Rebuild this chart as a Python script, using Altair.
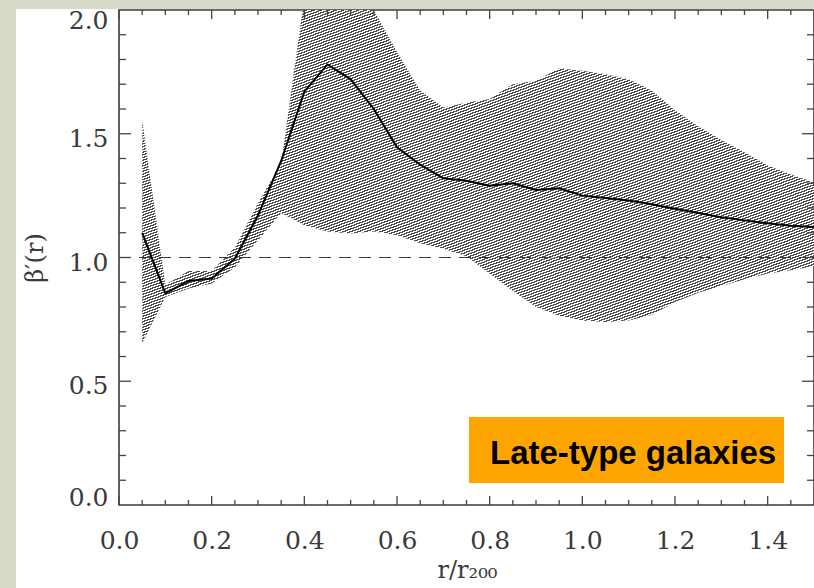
import math
import altair as alt
import pandas as pd

# ---------------- data ----------------
x_vals = [0.05, 0.10, 0.15, 0.20, 0.25, 0.30, 0.35, 0.40, 0.45, 0.50,
          0.55, 0.60, 0.65, 0.70, 0.75, 0.80, 0.85, 0.90, 0.95, 1.00,
          1.05, 1.10, 1.15, 1.20, 1.25, 1.30, 1.35, 1.40, 1.45, 1.50]
beta_vals = [1.10, 0.855, 0.905, 0.915, 0.995, 1.17, 1.39, 1.67, 1.78, 1.72,
             1.60, 1.445, 1.375, 1.32, 1.31, 1.29, 1.30, 1.273, 1.28, 1.25,
             1.24, 1.23, 1.215, 1.197, 1.18, 1.163, 1.15, 1.138, 1.128, 1.123]
lower_vals = [0.655, 0.84, 0.875, 0.895, 0.96, 1.07, 1.18, 1.13, 1.105, 1.097,
              1.105, 1.09, 1.058, 1.035, 1.005, 0.934, 0.865, 0.80, 0.765, 0.745,
              0.739, 0.745, 0.768, 0.82, 0.858, 0.885, 0.912, 0.935, 0.948, 0.965]
upper_vals = [1.555, 0.89, 0.945, 0.945, 1.04, 1.22, 1.38, 2.05, 2.3, 2.25,
              2.0, 1.83, 1.675, 1.606, 1.625, 1.64, 1.70, 1.714, 1.765, 1.755,
              1.74, 1.72, 1.675, 1.595, 1.53, 1.475, 1.425, 1.372, 1.335, 1.304]

x_label_vals = [0.0, 0.2, 0.4, 0.6, 0.8, 1.0, 1.2, 1.4]
x_minor_vals = [0.05, 0.1, 0.15, 0.25, 0.3, 0.35, 0.45, 0.5, 0.55, 0.65, 0.7,
                0.75, 0.85, 0.9, 0.95, 1.05, 1.1, 1.15, 1.25, 1.3, 1.35, 1.45]
y_label_vals = [0.0, 0.5, 1.0, 1.5, 2.0]
y_major_vals = [0.5, 1.0, 1.5]
y_minor_vals = [0.1, 0.2, 0.3, 0.4, 0.6, 0.7, 0.8, 0.9, 1.1, 1.2, 1.3, 1.4,
                1.6, 1.7, 1.8, 1.9]
ref_level = [1.0]
box_label = ["Late-type galaxies"]
x_title = "r/r₂₀₀"
y_title = "β′(r)"

# ---------------- styling ----------------
W, H = 695, 495
X_MAX, Y_MAX = 1.5, 2.0
BG = "#d7dac8"
INK = "#3a3a3a"
TICK = "#444444"
HATCH = "#4d4d4d"
SERIF = "DejaVu Serif"

xs = alt.Scale(domain=[0, X_MAX], nice=False, zero=False)
ys = alt.Scale(domain=[0, Y_MAX], nice=False, zero=False)

df = pd.DataFrame({"x": x_vals, "beta": beta_vals, "lo": lower_vals, "hi": upper_vals})

# hatch fill as a striped linear gradient (45 degree "/" lines), period chosen
# so that the horizontal spacing is a whole number of pixels (no moire)
pxu, pyu = W / X_MAX, H / Y_MAX
bw = (max(x_vals) - min(x_vals)) * pxu
bh = (max(upper_vals) - min(lower_vals)) * pyu
period = 4.0 / math.sqrt(2)          # 4 px horizontal spacing
frac = 0.5
L_need = (bw + bh) / math.sqrt(2)
n = int(math.ceil(L_need / period))
L = n * period
t = L / math.sqrt(2)
stops = []
for i in range(n):
    a, b, c = i / n, (i + frac) / n, (i + 1) / n
    stops += [alt.GradientStop(color=HATCH, offset=a),
              alt.GradientStop(color=HATCH, offset=b),
              alt.GradientStop(color="white", offset=b),
              alt.GradientStop(color="white", offset=c)]
grad = alt.LinearGradient(gradient="linear", stops=stops,
                          x1=0, y1=0, x2=t / bw, y2=t / bh)

x_axis = alt.Axis(values=x_label_vals, format=".1f", ticks=False, tickSize=0,
                  domain=False, grid=False, labelFont=SERIF, labelFontSize=25,
                  labelColor=INK, labelPadding=23, labelFlush=False,
                  title=x_title, titleFont=SERIF, titleFontSize=24,
                  titleFontWeight="normal", titleColor=INK, titleX=348,
                  titleY=72, titleBaseline="alphabetic", titleAlign="center")
y_axis = alt.Axis(values=y_label_vals, format=".1f", ticks=False, tickSize=0,
                  domain=False, grid=False, labelFont=SERIF, labelFontSize=25,
                  labelColor=INK, labelPadding=11, labelFlush=False,
                  labelBaseline={"condition": [
                      {"test": "datum.value == 2", "value": "top"},
                      {"test": "datum.value == 0", "value": "alphabetic"}],
                      "value": "middle"},
                  labelOffset={"condition": [
                      {"test": "datum.value == 2", "value": -2},
                      {"test": "datum.value == 0", "value": 0}],
                      "value": 4.5},
                  title=y_title, titleFont=SERIF, titleFontSize=24,
                  titleFontWeight="normal", titleColor=INK, titleX=-77,
                  titleY=H / 2, titleAngle=270, titleBaseline="alphabetic",
                  titleAlign="center")

band = alt.Chart(df).mark_area(fill=grad, clip=True, strokeWidth=0).encode(
    x=alt.X("x:Q", scale=xs, axis=x_axis),
    y=alt.Y("hi:Q", scale=ys, axis=y_axis),
    y2="lo:Q",
)

dashed = alt.Chart(pd.DataFrame({"v": ref_level})).mark_rule(
    color=INK, strokeDash=[12, 8], strokeWidth=1.2
).encode(y=alt.Y("v:Q", scale=ys), x=alt.value(0), x2=alt.value(W))

line = alt.Chart(df).mark_line(color="black", strokeWidth=2).encode(
    x=alt.X("x:Q", scale=xs), y=alt.Y("beta:Q", scale=ys)
)


def xticks(vals, y0, y1):
    return alt.Chart(pd.DataFrame({"v": vals})).mark_rule(
        color=TICK, strokeWidth=1.3
    ).encode(x=alt.X("v:Q", scale=xs), y=alt.value(y0), y2=alt.value(y1))


def yticks(vals, x0, x1):
    return alt.Chart(pd.DataFrame({"v": vals})).mark_rule(
        color=TICK, strokeWidth=1.3
    ).encode(y=alt.Y("v:Q", scale=ys), x=alt.value(x0), x2=alt.value(x1))


tick_layers = [
    xticks(x_label_vals, H, H - 9), xticks(x_minor_vals, H, H - 5),
    xticks(x_label_vals, 0, 9), xticks(x_minor_vals, 0, 5),
    yticks(y_major_vals, 0, 12), yticks(y_minor_vals, 0, 7),
    yticks(y_major_vals, W, W - 12), yticks(y_minor_vals, W, W - 7),
]

lab_df = pd.DataFrame({"label": box_label})
box = alt.Chart(lab_df).mark_rect(color="#FFA500").encode(
    x=alt.value(350), x2=alt.value(665), y=alt.value(407), y2=alt.value(473)
)
box_text = alt.Chart(lab_df).mark_text(
    font="Liberation Sans", fontSize=33, fontWeight="bold", align="left",
    baseline="alphabetic", color="black"
).encode(text="label:N", x=alt.value(371), y=alt.value(454))

strip_left = alt.Chart(lab_df).mark_rect(color=BG).encode(
    x=alt.value(-119), x2=alt.value(-103), y=alt.value(-10), y2=alt.value(H + 83)
)
strip_top = alt.Chart(lab_df).mark_rect(color=BG).encode(
    x=alt.value(-119), x2=alt.value(W), y=alt.value(-10), y2=alt.value(-1)
)

chart = alt.layer(
    band, dashed, line, *tick_layers, box, box_text, strip_left, strip_top
).properties(
    width=W, height=H, autosize="none",
    padding={"left": 119, "top": 10, "right": 0, "bottom": 83},
    background="white",
).configure_view(stroke=INK, strokeWidth=1.6)

chart.save("out.html", embed_options={"renderer": "svg", "actions": False})
